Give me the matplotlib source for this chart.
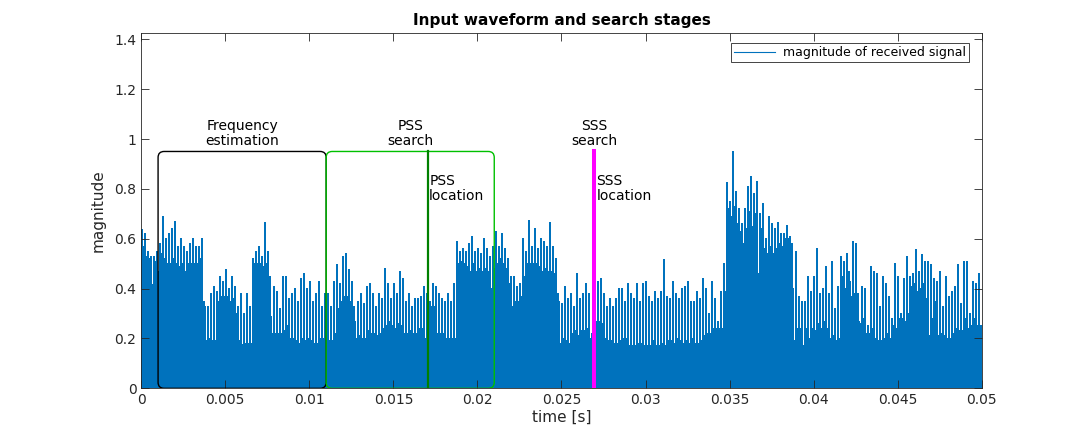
import numpy as np
import matplotlib
matplotlib.use('Agg')
import matplotlib.pyplot as plt
from matplotlib.patches import FancyBboxPatch
from matplotlib.lines import Line2D

# envelope of |rx|, one pair per ~3 px column group
# peak = spike top in the group, low = level of the rest of the group
peak_a = [.638, .62, .55, .53, .53, .55, .58, .69, .60, .62, .64, .67, .57, .60, .57, .55,
          .58, .60, .57, .57, .60, .33, .33, .38, .41, .39, .45, .43, .475, .40, .45, .41,
          .33, .38, .30, .38, .33, .52, .55, .57, .53, .665, .55, .29, .41, .39, .32]
low_a = [.568, .53, .52, .415, .51, .47, .54, .52, .50, .50, .52, .50, .49, .50, .47, .50,
         .50, .50, .50, .52, .35, .19, .20, .19, .19, .35, .37, .37, .37, .35, .36, .30,
         .19, .175, .18, .18, .18, .50, .50, .50, .49, .50, .45, .22, .22, .22, .22]
peak_b = [.45, .45, .36, .38, .40, .35, .44, .46, .40, .43, .35, .38, .43, .33, .38, .38,
          .33, .43, .495, .42, .53, .54, .475, .43, .27, .35, .38, .34, .41, .42, .38, .33,
          .38, .36, .48, .42, .36, .42, .38, .47, .44, .35, .38, .33, .36, .36, .37]
low_b = [.23, .25, .20, .20, .19, .18, .20, .19, .20, .19, .18, .18, .20, .20, .23, .19,
         .19, .22, .32, .35, .37, .37, .35, .33, .20, .21, .20, .20, .23, .22, .22, .21,
         .22, .24, .25, .27, .25, .24, .26, .25, .22, .22, .23, .22, .22, .24, .24]
peak_c = [.41, .38, .35, .42, .41, .38, .36, .35, .38, .35, .42, .59, .55, .56, .55, .58,
          .61, .55, .56, .54, .60, .56, .53, .57, .63, .57, .62, .56, .52, .45, .45, .41,
          .42, .60, .55, .675, .57, .64, .56, .60, .59, .57, .665, .57, .52, .35]
low_c = [.20, .22, .33, .33, .22, .22, .22, .20, .20, .20, .20, .50, .51, .50, .49, .47,
         .50, .47, .48, .47, .48, .47, .40, .48, .50, .52, .50, .48, .42, .33, .35, .35,
         .37, .45, .50, .50, .50, .50, .49, .47, .48, .47, .47, .46, .38, .18]
peak_d = [.34, .41, .36, .38, .33, .46, .36, .38, .42, .38, .22, .43, .43, .44, .38, .33,
          .36, .33, .36, .40, .40, .35, .42, .38, .36, .42, .35, .42, .43, .37, .35, .39,
          .36, .39, .515, .37, .36, .43, .38, .36, .40, .41, .43, .35, .35, .39, .36]
low_d = [.20, .19, .18, .22, .23, .21, .23, .23, .24, .20, .20, .27, .27, .26, .20, .19,
         .19, .18, .18, .19, .20, .20, .17, .17, .17, .18, .18, .17, .17, .17, .19, .17,
         .17, .18, .17, .19, .19, .18, .20, .19, .18, .19, .18, .20, .18, .18, .19]
peak_e = [.44, .40, .30, .43, .36, .27, .39, .50, .825, .75, .95, .79, .72, .66, .72, .81,
          .85, .78, .83, .70, .74, .60, .69, .66, .64, .665, .62, .62, .655, .61, .40, .55,
          .37, .35, .35, .45, .39, .45, .56, .38, .40, .49, .38, .51, .32, .41]
low_e = [.21, .22, .22, .24, .24, .24, .24, .39, .72, .69, .73, .66, .63, .58, .64, .71,
         .65, .70, .46, .64, .56, .54, .57, .54, .56, .58, .57, .60, .60, .58, .19, .24,
         .24, .17, .24, .20, .24, .23, .26, .24, .27, .24, .20, .21, .19, .20]
peak_f = [.53, .51, .54, .43, .59, .58, .27, .41, .40, .25, .49, .47, .46, .33, .45, .42,
          .37, .28, .50, .45, .30, .44, .53, .45, .46, .555, .47, .535, .51, .51, .495, .44,
          .43, .47, .33, .45, .37, .39, .41, .495, .34, .51, .51, .30, .43, .42, .46]
low_f = [.45, .40, .47, .37, .38, .38, .26, .28, .22, .22, .24, .20, .19, .19, .20, .22,
         .20, .25, .24, .28, .28, .27, .30, .41, .42, .39, .40, .42, .36, .21, .28, .35,
         .21, .22, .21, .20, .20, .22, .24, .23, .23, .28, .24, .25, .28, .25, .25]

t_end = 0.05
# search stages [s]
freq_est = (0.001, 0.011)
pss_search = (0.011, 0.021)
pss_loc = 0.01705
sss_loc = 0.02693
stage_top = 0.95

peak = np.array(peak_a + peak_b + peak_c + peak_d + peak_e + peak_f)
low = np.array(low_a + low_b + low_c + low_d + low_e + low_f)
y = np.column_stack([peak, low, low]).ravel()
edges = np.linspace(0, t_end, len(y) + 1)

mblue = '#0072BD'
dark = '#262626'
plt.rcParams['font.family'] = 'DejaVu Sans'

fig = plt.figure(figsize=(10.85, 4.37), dpi=100)
ax = fig.add_axes([0.1302, 0.1114, 0.7746, 0.8124])

ax.stairs(y, edges, fill=True, color=mblue, lw=0, antialiased=False)

# rounded stage boxes (corner ~6px in both directions)
asp = (1.424 / 355.0) / (t_end / 840.4)
for (x0, x1), col in [(freq_est, 'k'), (pss_search, '#00c000')]:
    box = FancyBboxPatch((x0, 0), x1 - x0, stage_top,
                         boxstyle='round,pad=0,rounding_size=0.00036',
                         mutation_aspect=asp, fill=False, ec=col, lw=1.0, zorder=3)
    ax.add_patch(box)

ax.plot([pss_loc, pss_loc], [0, stage_top], color='#008000', lw=1.6, zorder=4)
ax.plot([sss_loc, sss_loc], [0, stage_top], color='#ff00ff', lw=2.9, zorder=4)

ax.text(np.mean(freq_est), 0.965, 'Frequency\nestimation', ha='center', va='bottom',
        fontsize=10, color='k', linespacing=1.1)
ax.text(0.016, 0.965, 'PSS\nsearch', ha='center', va='bottom', fontsize=10, linespacing=1.1)
ax.text(sss_loc, 0.965, 'SSS\nsearch', ha='center', va='bottom', fontsize=10, linespacing=1.1)
ax.text(pss_loc + 0.00008, 0.86, 'PSS\nlocation', ha='left', va='top', fontsize=10, linespacing=1.1)
ax.text(sss_loc + 0.00014, 0.86, 'SSS\nlocation', ha='left', va='top', fontsize=10, linespacing=1.1)

ax.set_xlim(0, t_end)
ax.set_ylim(0, 1.424)
ax.set_xticks(np.arange(0, 0.0501, 0.005))
ax.set_xticklabels(['0', '0.005', '0.01', '0.015', '0.02', '0.025', '0.03', '0.035',
                    '0.04', '0.045', '0.05'])
ax.set_yticks(np.arange(0, 1.41, 0.2))
ax.set_yticklabels(['0', '0.2', '0.4', '0.6', '0.8', '1', '1.2', '1.4'])
ax.tick_params(axis='both', direction='in', length=5.8, width=0.6, colors=dark,
               labelsize=10, top=True, right=True)
for s in ax.spines.values():
    s.set_color(dark)
    s.set_linewidth(0.6)

ax.set_xlabel('time [s]', fontsize=11, color=dark, labelpad=2)
ax.set_ylabel('magnitude', fontsize=11, color=dark, labelpad=6)
ax.set_title('Input waveform and search stages', fontsize=11, fontweight='bold',
             color='k', pad=6)

h = Line2D([], [], color=mblue, lw=0.8)
lgd = ax.legend([h], ['magnitude of received signal'], loc='upper right',
                bbox_to_anchor=(0.985, 0.972), borderaxespad=0, fontsize=9,
                fancybox=False, framealpha=1, edgecolor=dark, handlelength=3.3,
                handletextpad=0.6, borderpad=0.25)
lgd.get_frame().set_linewidth(0.6)

fig.savefig('out.png', dpi=100)
